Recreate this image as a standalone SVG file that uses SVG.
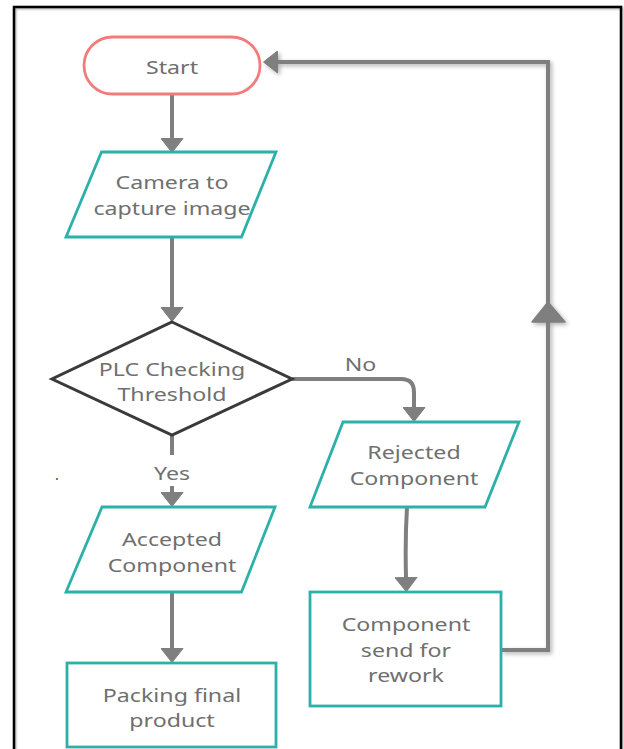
<svg xmlns="http://www.w3.org/2000/svg" width="624" height="749" viewBox="0 0 624 749">
<defs>
<style>
.t{font-family:"Noto Sans","Open Sans","DejaVu Sans",sans-serif;font-size:19px;fill:#6f6f6f;text-anchor:middle}
.teal{fill:#fff;stroke:#2cb0aa;stroke-width:2.8}
.con{fill:none;stroke:#7f7f7f;stroke-width:4}
.head{fill:#7f7f7f;stroke:#7f7f7f;stroke-width:1.5;stroke-linejoin:round}
</style>
<marker id="ah" markerUnits="userSpaceOnUse" viewBox="0 0 15 23" refX="0" refY="11.5" markerWidth="15" markerHeight="23" orient="auto">
<path d="M0.5,0.5 L14.5,11.5 L0.5,22.5 Z" fill="#7f7f7f" stroke="#7f7f7f" stroke-linejoin="round"/>
</marker>
<filter id="sh" x="-20%" y="-5%" width="140%" height="110%">
<feDropShadow dx="2" dy="2" stdDeviation="2" flood-color="#000" flood-opacity="0.3"/>
</filter>
<filter id="bsh" x="-5%" y="-5%" width="110%" height="110%">
<feDropShadow dx="1" dy="1" stdDeviation="1" flood-color="#000" flood-opacity="0.35"/>
</filter>
</defs>
<rect width="624" height="749" fill="#fff"/>
<rect id="frame" x="14" y="7" width="607" height="770" fill="none" stroke="#000" stroke-width="2.5" filter="url(#bsh)"/>

<g id="connectors">
<path class="con" d="M172,95 V138" marker-end="url(#ah)"/>
<path class="con" d="M172,237 V307" marker-end="url(#ah)"/>
<path class="con" d="M292,379 H401 Q414,379 414,392 V407" stroke-width="3" marker-end="url(#ah)"/>
<path class="con" d="M172,435 V455" stroke-width="3"/>
<path class="con" d="M172,486 V492" stroke-width="3" marker-end="url(#ah)"/>
<path class="con" d="M172,592 V648" marker-end="url(#ah)"/>
<path class="con" d="M407,507 Q405,540 406,577" stroke-width="3" marker-end="url(#ah)"/>
<g filter="url(#sh)">
<path class="con" d="M501,650 H548 V62 H278" stroke-width="5" stroke-linejoin="miter" marker-end="url(#ah)"/>
<polygon class="head" points="532,322 548,302 565,322"/>
</g>
<text class="t" transform="translate(360.5,371) scale(1.22,1)">No</text>
<text class="t" transform="translate(172,480) scale(1.22,1)">Yes</text>
</g>

<g id="start">
<rect x="84" y="37" width="176" height="57" rx="28.5" fill="#fff" stroke="#f37b7b" stroke-width="2.8"/>
<text class="t" transform="translate(172,74) scale(1.22,1)">Start</text>
</g>

<g id="camera">
<polygon class="teal" points="101.5,152 276,152 241.5,237 66,237"/>
<text class="t" transform="translate(172,189) scale(1.22,1)">Camera to</text>
<text class="t" transform="translate(172,215) scale(1.22,1)">capture image</text>
</g>

<g id="plc">
<polygon points="172,322 292,379 172,435 52,379" fill="#fff" stroke="#3a3a3a" stroke-width="3"/>
<text class="t" transform="translate(172,376) scale(1.22,1)">PLC Checking</text>
<text class="t" transform="translate(172,401) scale(1.22,1)">Threshold</text>
</g>

<g id="rejected">
<polygon class="teal" points="343,422 519,422 485,507 310,507"/>
<text class="t" transform="translate(414,459) scale(1.22,1)">Rejected</text>
<text class="t" transform="translate(414,485) scale(1.22,1)">Component</text>
</g>

<g id="accepted">
<polygon class="teal" points="102,507 275,507 241.5,592 66,592"/>
<text class="t" transform="translate(172,545.5) scale(1.22,1)">Accepted</text>
<text class="t" transform="translate(172,571.5) scale(1.22,1)">Component</text>
</g>

<g id="packing">
<rect class="teal" x="67" y="663" width="209" height="84"/>
<text class="t" transform="translate(172,701.5) scale(1.22,1)">Packing final</text>
<text class="t" transform="translate(172,727) scale(1.22,1)">product</text>
</g>

<g id="rework">
<rect class="teal" x="310" y="592" width="191" height="114"/>
<text class="t" transform="translate(406,630.5) scale(1.22,1)">Component</text>
<text class="t" transform="translate(406,656.5) scale(1.22,1)">send for</text>
<text class="t" transform="translate(406,681.5) scale(1.22,1)">rework</text>
</g>

<text class="t" x="57" y="480" style="fill:#444;font-size:14px">.</text>
</svg>
